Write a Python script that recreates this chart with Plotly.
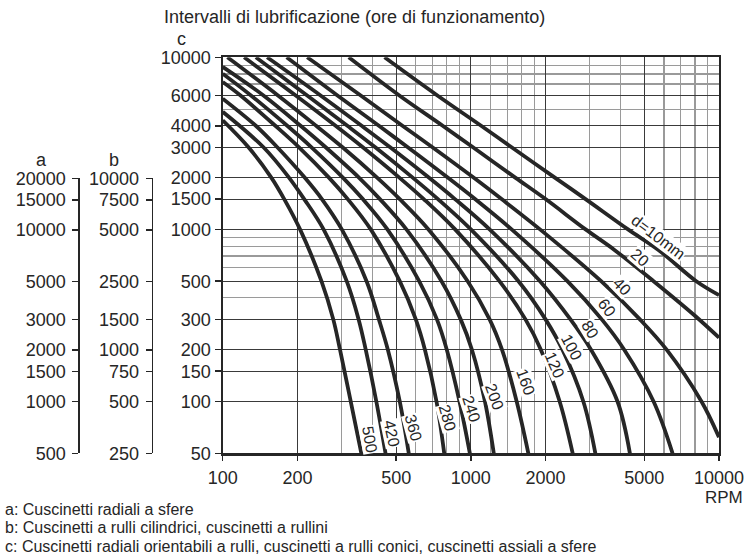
import math
import plotly.graph_objects as go

# ---------------- data ----------------
X_TICKS = [100, 200, 500, 1000, 2000, 5000, 10000]
X_MINOR = [300, 400, 600, 700, 800, 900, 1200, 1400, 1600, 1800,
           3000, 4000, 6000, 7000, 8000, 9000]
C_TICKS = [10000, 6000, 4000, 3000, 2000, 1500, 1000, 500, 300, 200, 150, 100, 50]
C_MINOR = [9000, 8000, 7000, 5000, 900, 800, 700, 600, 400]
A_TICKS = [20000, 15000, 10000, 5000, 3000, 2000, 1500, 1000, 500]
B_TICKS = [10000, 7500, 5000, 2500, 1500, 1000, 750, 500, 250]

# bore diameter d (mm) -> curve (rpm, lubrication interval c in hours)
rpm_d10 = [449, 733, 1100, 1460, 2180, 2900, 4300, 5700, 8100, 10000]
hrs_d10 = [10000, 6000, 4000, 3000, 2000, 1500, 1000, 760, 500, 415]
rpm_d20 = [322, 515, 770, 1020, 1510, 2000, 2900, 3790, 5450, 8000, 10000]
hrs_d20 = [10000, 6000, 4000, 3000, 2000, 1500, 1000, 760, 500, 315, 235]
rpm_d40 = [219, 360, 530, 700, 1025, 1330, 1900, 3350, 4800, 6150, 8500, 10000]
hrs_d40 = [10000, 6000, 4000, 3000, 2000, 1500, 1000, 500, 300, 200, 100, 62]
rpm_d60 = [181, 290, 426, 557, 807, 1040, 1460, 2450, 3370, 4150, 5450, 6500]
hrs_d60 = [10000, 6000, 4000, 3000, 2000, 1500, 1000, 500, 300, 200, 100, 50]
rpm_d80 = [151, 248, 363, 473, 677, 863, 1190, 1900, 2520, 3050, 3900, 4375]
hrs_d80 = [10000, 6000, 4000, 3000, 2000, 1500, 1000, 500, 300, 200, 100, 50]
rpm_d100 = [136, 219, 318, 412, 583, 737, 1000, 1556, 2000, 2340, 2840, 3175]
hrs_d100 = [10000, 6000, 4000, 3000, 2000, 1500, 1000, 500, 300, 200, 100, 50]
rpm_d120 = [122, 197, 285, 367, 515, 646, 864, 1304, 1660, 1915, 2280, 2573]
hrs_d120 = [10000, 6000, 4000, 3000, 2000, 1500, 1000, 500, 300, 200, 100, 50]
rpm_d160 = [104.5, 167, 238, 304, 419, 517, 675, 971, 1190, 1335, 1530, 1705]
hrs_d160 = [10000, 6000, 4000, 3000, 2000, 1500, 1000, 500, 300, 200, 100, 50]
rpm_d200 = [100, 146, 206, 260, 354, 430, 550, 762, 910, 1010, 1140, 1237]
hrs_d200 = [8790, 6000, 4000, 3000, 2000, 1500, 1000, 500, 300, 200, 100, 50]
rpm_d240 = [100, 130, 182, 228, 305, 367, 461, 619, 730, 800, 900, 991]
hrs_d240 = [8030, 6000, 4000, 3000, 2000, 1500, 1000, 500, 300, 200, 100, 50]
rpm_d280 = [100, 118, 163, 203, 268, 319, 395, 517, 600, 653, 727, 781]
hrs_d280 = [7190, 6000, 4000, 3000, 2000, 1500, 1000, 500, 300, 200, 100, 50]
rpm_d360 = [100, 136, 166, 214, 251, 302, 380, 426, 463, 517, 562]
hrs_d360 = [5750, 4000, 3000, 2000, 1500, 1000, 500, 300, 200, 100, 50]
rpm_d420 = [100, 146, 185, 213, 255, 316, 353, 377, 416, 453]
hrs_d420 = [4820, 3000, 2000, 1500, 1000, 500, 300, 200, 100, 50]
rpm_d500 = [100, 127, 157, 177, 205, 250, 279, 297, 328, 362]
hrs_d500 = [4300, 3000, 2000, 1500, 1000, 500, 300, 200, 100, 50]

CURVES = [
    (rpm_d10, hrs_d10), (rpm_d20, hrs_d20), (rpm_d40, hrs_d40),
    (rpm_d60, hrs_d60), (rpm_d80, hrs_d80), (rpm_d100, hrs_d100),
    (rpm_d120, hrs_d120), (rpm_d160, hrs_d160), (rpm_d200, hrs_d200),
    (rpm_d240, hrs_d240), (rpm_d280, hrs_d280), (rpm_d360, hrs_d360),
    (rpm_d420, hrs_d420), (rpm_d500, hrs_d500),
]
CURVE_LABELS = ["d=10mm", "20", "40", "60", "80", "100", "120", "160",
                "200", "240", "280", "360", "420", "500"]

# label placement (rpm, hours) and text angle
LABEL_RPM = [5730, 4800, 4060, 3530, 3020, 2550, 2180, 1667, 1250, 1003, 808, 589, 479, 391]
LABEL_HRS = [902, 686, 466, 352, 262, 206, 162, 129, 106, 91, 80, 70, 65, 60]
LABEL_ANG = [37, 41, 46, 53, 59, 62, 66, 70, 70, 72, 74, 75, 78, 80]

NOTES = [
    "a: Cuscinetti radiali a sfere",
    "b: Cuscinetti a rulli cilindrici, cuscinetti a rullini",
    "c: Cuscinetti radiali orientabili a rulli, cuscinetti a rulli conici, cuscinetti assiali a sfere",
]

# ---------------- layout geometry ----------------
W, H = 747, 560
FONT = "Liberation Sans, Arial, Helvetica, sans-serif"
INK = "#262626"


def px(x):
    return x / W


def py(y):
    return 1 - y / H


fig = go.Figure()

for (r, h) in CURVES:
    fig.add_trace(go.Scatter(
        x=r, y=h, mode="lines", xaxis="x", yaxis="y",
        line=dict(color=INK, width=3.8, shape="spline", smoothing=1.0),
        hoverinfo="skip", showlegend=False,
    ))

# invisible traces to materialise the auxiliary a / b axes
fig.add_trace(go.Scatter(x=[1, 2], y=[A_TICKS[-1], A_TICKS[0]], xaxis="x2", yaxis="y2",
                         mode="markers", marker=dict(opacity=0), hoverinfo="skip",
                         showlegend=False))
fig.add_trace(go.Scatter(x=[1, 2], y=[B_TICKS[-1], B_TICKS[0]], xaxis="x2", yaxis="y3",
                         mode="markers", marker=dict(opacity=0), hoverinfo="skip",
                         showlegend=False))

XD = [px(222.7), px(719)]
YD = [py(453.3), py(57.3)]
YD_AB = [py(453.3), py(178.3)]

fig.update_layout(
    width=W, height=H,
    margin=dict(l=0, r=0, t=0, b=0),
    paper_bgcolor="white", plot_bgcolor="rgba(0,0,0,0)",
    showlegend=False,
    font=dict(family=FONT, size=18, color=INK),
    xaxis=dict(
        type="log", range=[math.log10(X_TICKS[0]), math.log10(X_TICKS[-1])],
        domain=XD, anchor="y",
        tickmode="array", tickvals=X_TICKS, ticktext=[str(v) for v in X_TICKS],
        ticks="outside", ticklen=5, tickwidth=1.5, tickcolor=INK,
        ticklabelstandoff=2,
        showline=True, linecolor=INK, linewidth=2.2, mirror=True,
        showgrid=True, gridcolor="#3a3a3a", gridwidth=1.1,
        minor=dict(tickvals=X_MINOR, showgrid=True, gridcolor="#9a9a9a",
                   gridwidth=1.1, ticks=""),
        zeroline=False, automargin=False,
        tickfont=dict(size=18),
    ),
    yaxis=dict(
        type="log", range=[math.log10(C_TICKS[-1]), math.log10(C_TICKS[0])],
        domain=YD, anchor="x",
        tickmode="array", tickvals=C_TICKS, ticktext=[str(v) for v in C_TICKS],
        ticks="outside", ticklen=6, tickwidth=1.5, tickcolor=INK,
        showline=True, linecolor=INK, linewidth=2.2, mirror=True,
        showgrid=True, gridcolor="#3a3a3a", gridwidth=1.1,
        minor=dict(tickvals=C_MINOR, showgrid=True, gridcolor="#9a9a9a",
                   gridwidth=1.1, ticks=""),
        zeroline=False, automargin=False,
        tickfont=dict(size=18),
    ),
    xaxis2=dict(domain=[0, 0.01], anchor="y2", visible=False, range=[0, 3]),
    yaxis2=dict(
        type="log", range=[math.log10(A_TICKS[-1]), math.log10(A_TICKS[0])],
        domain=YD_AB, anchor="free", position=px(78.3), side="left",
        tickmode="array", tickvals=A_TICKS, ticktext=[str(v) for v in A_TICKS],
        ticks="outside", ticklen=6, tickwidth=1.5, tickcolor=INK,
        showline=True, linecolor=INK, linewidth=1.5,
        showgrid=False, zeroline=False, automargin=False,
        tickfont=dict(size=18), ticklabelstandoff=3,
    ),
    yaxis3=dict(
        type="log", range=[math.log10(B_TICKS[-1]), math.log10(B_TICKS[0])],
        domain=YD_AB, anchor="free", position=px(151.7), side="left",
        tickmode="array", tickvals=B_TICKS, ticktext=[str(v) for v in B_TICKS],
        ticks="outside", ticklen=6, tickwidth=1.5, tickcolor=INK,
        showline=True, linecolor=INK, linewidth=1.5,
        showgrid=False, zeroline=False, automargin=False,
        tickfont=dict(size=18), ticklabelstandoff=3,
    ),
)

ann = []
# titles / axis names
ann.append(dict(text="Intervalli di lubrificazione (ore di funzionamento)",
                x=px(161.7), y=py(16.7), xanchor="left", yanchor="middle",
                font=dict(size=18)))
ann.append(dict(text="c", x=px(181.7), y=py(39.3), xanchor="center", yanchor="middle"))
ann.append(dict(text="a", x=px(41.7), y=py(160), xanchor="center", yanchor="middle"))
ann.append(dict(text="b", x=px(114.3), y=py(160), xanchor="center", yanchor="middle"))
ann.append(dict(text="RPM", x=px(745), y=py(497), xanchor="right", yanchor="middle",
                font=dict(size=17)))
for i, t in enumerate(NOTES):
    ann.append(dict(text=t, x=px(3), y=py(509 + 18.5 * i), xanchor="left",
                    yanchor="middle", font=dict(size=16)))
for a in ann:
    a.update(xref="paper", yref="paper", showarrow=False)

for t, r, h, ang in zip(CURVE_LABELS, LABEL_RPM, LABEL_HRS, LABEL_ANG):
    ann.append(dict(text=t, x=math.log10(r), y=math.log10(h), xref="x", yref="y",
                    showarrow=False, textangle=ang, bgcolor="white", borderpad=0,
                    font=dict(size=16), xanchor="center", yanchor="middle"))

fig.update_layout(annotations=ann)

fig.write_html("out.html", config={"displayModeBar": False, "staticPlot": True},
               post_script="document.body.style.margin='0px';")
